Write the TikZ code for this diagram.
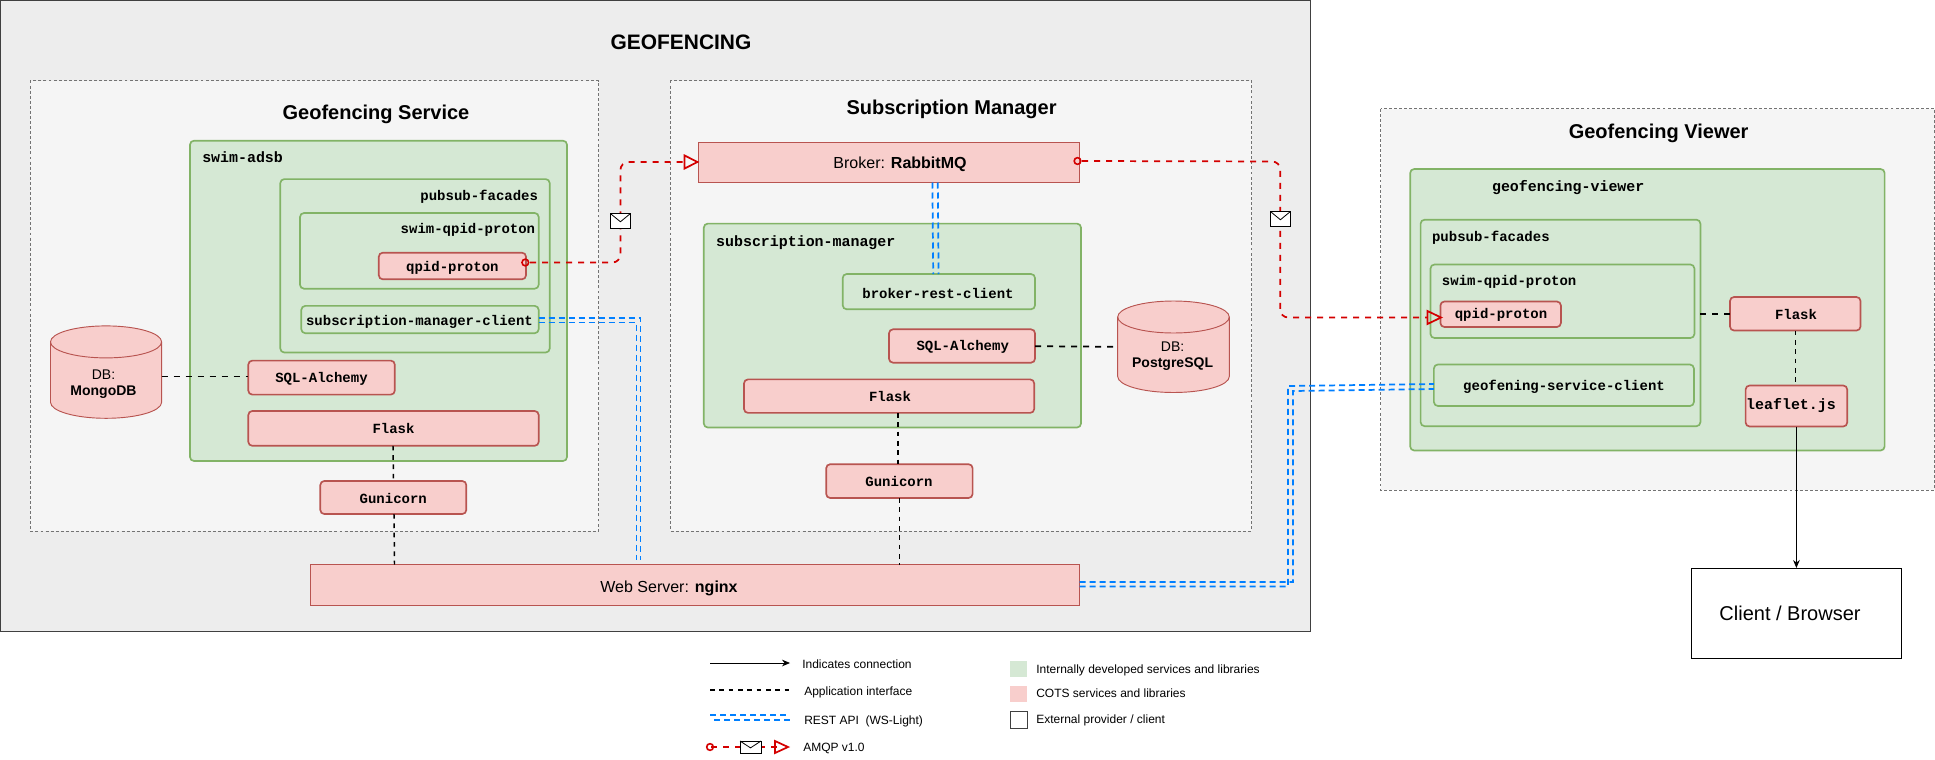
\documentclass[tikz,border=0pt]{standalone}
\usepackage{fontspec}
\setmainfont{Liberation Sans}
\setmonofont{Liberation Mono}
\usetikzlibrary{arrows.meta}
\definecolor{gfill}{HTML}{D5E8D4}
\definecolor{gline}{HTML}{82B366}
\definecolor{rfill}{HTML}{F8CECC}
\definecolor{rline}{HTML}{B85450}
\definecolor{amqp}{HTML}{D40000}
\definecolor{rest}{HTML}{007FFF}
\tikzset{
  x=0.75pt,y=-0.75pt,
  outerbox/.style={draw=black!75,fill=black!7,line width=0.7pt},
  dashbox/.style={draw=black!55,fill=black!4,line width=0.6pt,dash pattern=on 2.2pt off 1.6pt},
  gbox/.style={draw=gline,fill=gfill,line width=1.25pt,rounded corners=3pt},
  rbox/.style={draw=rline,fill=rfill,line width=1.25pt,rounded corners=3pt},
  sqbox/.style={draw=rline,fill=rfill,line width=0.6pt},
  ttl/.style={font=\fontsize{15}{18}\selectfont\bfseries,inner sep=0},
  bigttl/.style={font=\fontsize{15.7}{20}\selectfont\bfseries,inner sep=0},
  mono/.style={font=\ttfamily\bfseries\fontsize{10.5}{12}\selectfont,inner sep=0},
  monob/.style={font=\ttfamily\bfseries\fontsize{11.2}{12}\selectfont,inner sep=0},
  dbtxt/.style={font=\fontsize{10.5}{12}\selectfont,inner sep=0,align=center},
  sans/.style={font=\fontsize{12}{14}\selectfont,inner sep=0},
  leg/.style={font=\fontsize{9}{11}\selectfont,inner sep=0,anchor=west},
  appif/.style={draw=black,line width=1.3pt,dash pattern=on 4.5pt off 4.5pt},
  appthin/.style={draw=black,line width=1.1pt,dash pattern=on 3.5pt off 3.5pt},
  restln/.style={draw=rest,line width=1.3pt,dash pattern=on 4.5pt off 3pt},
  amqpln/.style={draw=amqp,line width=1.3pt,dash pattern=on 4.5pt off 4.5pt,rounded corners=6pt},
  tri/.style={draw=amqp,line width=1.3pt,fill=none},
  ring/.style={draw=amqp,line width=1.2pt,fill=none,circle,inner sep=0,minimum size=5pt},
  env/.style={draw=black,fill=white,line width=0.6pt},
}
\newcommand{\rect}[6]{% style name x1 y1 x2 y2
  \path[#1] (#3,#4) rectangle (#5,#6);
  \coordinate (#2) at ({(#3+#5)/2},{(#4+#6)/2});}
\newcommand{\cyl}[6]{% name x1 y1 x2 y2 ry
  \path[draw=rline,fill=rfill,line width=0.7pt] (#2,#3+#6) arc[x radius={(#4-#2)/2*0.75pt},y radius=#6*0.75pt,start angle=180,end angle=0] -- (#4,#5-#6) arc[x radius={(#4-#2)/2*0.75pt},y radius=#6*0.75pt,start angle=0,end angle=-180] -- cycle;
  \path[draw=rline,line width=0.7pt] (#2,#3+#6) arc[x radius={(#4-#2)/2*0.75pt},y radius=#6*0.75pt,start angle=180,end angle=360];
  \coordinate (#1) at ({(#2+#4)/2},{(#3+#5)/2});}
\newcommand{\envelope}[4]{%
  \path[env] (#1,#2) rectangle (#3,#4);
  \draw[line width=0.6pt] (#1,#2) -- ({(#1+#3)/2},{#2+(#4-#2)*0.55}) -- (#3,#2);}
\newcommand{\triangletip}[3]{% base x, tip x, y
  \path[tri] (#1,#3-6.5) -- (#2,#3) -- (#1,#3+6.5) -- cycle;}
\begin{document}
\begin{tikzpicture}
\useasboundingbox (0,0) rectangle (1935,760);
\path[fill=white] (0,0) rectangle (1935,760);
% containers
\rect{outerbox}{main}{0.5}{0.5}{1310.5}{631}
\rect{dashbox}{gs}{30}{80.5}{598.5}{531}
\rect{dashbox}{sm}{670.4}{80.5}{1251.6}{531}
\rect{dashbox}{gv}{1380.5}{108.6}{1934.5}{490}
\node[bigttl] (t0) at (681,42.5) {GEOFENCING};
\node[ttl] (t1) at (376,114.5) {Geofencing Service};
\node[ttl] (t2) at (951.6,109.5) {Subscription Manager};
\node[ttl] (t3) at (1658.6,133.5) {Geofencing Viewer};
% Geofencing service
\rect{gbox}{adsb}{190}{140.7}{567}{461}
\node[monob,anchor=west] (l1) at (202,157) {swim-adsb};
\rect{gbox}{pf1}{280.3}{179.1}{549.7}{352.5}
\node[mono,anchor=east] (l2) at (538.3,197) {pubsub-facades};
\rect{gbox}{sq1}{300}{213}{538.7}{288.7}
\node[mono,anchor=east] (l3) at (535.4,230) {swim-qpid-proton};
\rect{rbox}{qp1}{378.8}{252.7}{526}{279.3}
\node[mono] (qp1t) at (452.4,267.5) {qpid-proton};
\rect{gbox}{smc}{301.3}{305.9}{538.7}{333.2}
\node[mono] (smct) at (419.5,322) {subscription-manager-client};
\rect{rbox}{sa1}{248.3}{360.6}{394.8}{394.6}
\node[mono] (sa1t) at (321.5,378.5) {SQL-Alchemy};
\rect{rbox}{fl1}{248.3}{411}{538.7}{445.8}
\node[mono] (fl1t) at (393.5,428.5) {Flask};
\rect{rbox}{gu1}{320.3}{481}{466.3}{514}
\node[mono] (gu1t) at (393.3,498.5) {Gunicorn};
\cyl{mongo}{50.5}{325.9}{161.6}{418.3}{16}
\node[dbtxt] (mt) at (103.5,384) {DB:\\\textbf{MongoDB}};
% Subscription manager
\rect{sqbox}{brk}{698.5}{142}{1079.7}{182.5}
\node[sans] (brkt) at (900,164.5) {Broker: \textbf{RabbitMQ}};
\rect{gbox}{smb}{703.8}{223.6}{1081}{427.5}
\node[monob,anchor=west] (l4) at (715.9,243) {subscription-manager};
\rect{gbox}{brc}{842.7}{274}{1035}{309.3}
\node[mono] (brct) at (938,293) {broker-rest-client};
\rect{rbox}{sa2}{889}{329.3}{1035}{362.7}
\node[mono] (sa2t) at (962.7,347) {SQL-Alchemy};
\rect{rbox}{fl2}{744}{379.4}{1034.2}{412.9}
\node[mono] (fl2t) at (890,396.5) {Flask};
\rect{rbox}{gu2}{826.2}{464.2}{972.6}{498}
\node[mono] (gu2t) at (899,481) {Gunicorn};
\cyl{pg}{1117.7}{301}{1229.3}{392.5}{16}
\node[dbtxt] (pgt) at (1172.6,356) {DB:\\\textbf{PostgreSQL}};
% nginx
\rect{sqbox}{ngx}{310.2}{564.5}{1079.7}{605}
\node[sans] (ngxt) at (669,588) {Web Server: \textbf{nginx}};
% viewer
\rect{gbox}{gvb}{1410.2}{169}{1884.6}{450.5}
\node[monob] (l5) at (1568.2,187.5) {geofencing-viewer};
\rect{gbox}{pf2}{1420.6}{219.7}{1700.4}{426.2}
\node[mono,anchor=west] (l6) at (1431.8,238) {pubsub-facades};
\rect{gbox}{sq2}{1430.5}{264.5}{1694.4}{338}
\node[mono,anchor=west] (l7) at (1441.7,282) {swim-qpid-proton};
\rect{rbox}{qp2}{1440.4}{301.5}{1560.9}{327}
\node[mono] (qp2t) at (1501,315) {qpid-proton};
\rect{gbox}{gsc}{1433.9}{364.5}{1693.9}{406}
\node[mono] (gsct) at (1564,386.5) {geofening-service-client};
\rect{rbox}{fl3}{1730}{297}{1860.5}{330.5}
\node[mono] (fl3t) at (1796,314) {Flask};
\rect{rbox}{lfl}{1745.6}{385.5}{1847.2}{426.5}
\node[monob] (lflt) at (1791,406) {leaflet.js};
\path[draw=black,fill=white,line width=0.7pt] (1691.3,568) rectangle (1901.4,658);
\coordinate (cli) at (1796.4,568);
\node[font=\fontsize{15}{18}\selectfont,inner sep=0] (clit) at (1790,613) {Client / Browser};
% app interface connectors
\coordinate (a1) at (161.6,376.5); \coordinate (a2) at (248.3,376.5);
\path[appif] (a1) -- (a2);
\coordinate (a3) at (393,445.8); \coordinate (a4) at (393.5,481);
\path[appthin] (a3) -- (a4);
\coordinate (a5) at (394,514); \coordinate (a6) at (394.5,564.5);
\path[appthin] (a5) -- (a6);
\coordinate (a7) at (1035,346.2); \coordinate (a8) at (1117.7,346.8);
\path[appif] (a7) -- (a8);
\coordinate (a9) at (898,412.9); \coordinate (a10) at (898,464.2);
\path[appthin] (a9) -- (a10);
\coordinate (a11) at (899.4,498); \coordinate (a12) at (899.4,564.5);
\path[appthin] (a11) -- (a12);
\coordinate (a13) at (1700.4,314); \coordinate (a14) at (1730,314);
\path[appif] (a13) -- (a14);
\coordinate (a15) at (1795.5,330.5); \coordinate (a16) at (1795.5,385.5);
\path[appthin] (a15) -- (a16);
% plain connection
\draw[-{Stealth[length=6pt,width=5pt]},line width=0.6pt] (1796.4,426.5) -- (cli);
% REST
\path[restln] (538.7,318) -- (640.6,318) -- (640.6,560);
\path[restln] (538.7,322.5) -- (636.4,322.5) -- (636.4,560);
\path[restln] (932.4,182.5) -- (933.2,274);
\path[restln] (937.8,182.5) -- (938.6,274);
\path[restln] (1079.7,582) -- (1293,582) -- (1293,391) -- (1433.9,389);
\path[restln] (1079.7,586.5) -- (1288,586.5) -- (1288,386) -- (1433.9,384);
% AMQP
\path[amqpln] (530,262.5) -- (620.4,262.5) -- (620.4,162) -- (684.6,162);
\node[ring] (r1) at (525.3,262.5) {};
\triangletip{684.6}{697.5}{162}
\envelope{610.3}{213.5}{630.5}{228.5}
\path[amqpln] (1082,161) -- (1280.2,161.5) -- (1280.2,317.5) -- (1427,317.5);
\node[ring] (r2) at (1077.5,161) {};
\triangletip{1427.5}{1441}{317.5}
\envelope{1270.4}{211.5}{1290.4}{226.5}
% legend
\draw[-{Stealth[length=6pt,width=5pt]},line width=0.6pt] (710,663) -- (790,663);
\node[leg] at (802,664) {Indicates connection};
\path[appthin] (710,690) -- (790,690);
\node[leg] at (804,692.5) {Application interface};
\path[restln,line width=1.1pt] (710,715) -- (790,715);
\path[restln,line width=1.1pt] (714,720) -- (794,720);
\node[leg] at (804,721) {REST API~ (WS-Light)};
\path[amqpln,line width=1.1pt,rounded corners=0pt] (711,747) -- (777,747);
\node[ring] at (710,747) {};
\path[tri] (775,741) -- (788,747) -- (775,753) -- cycle;
\envelope{740}{741}{761}{753.5}
\node[leg] at (803,748) {AMQP v1.0};
\fill[gfill] (1010,660.5) rectangle (1027,676.5);
\node[leg] at (1036,670.5) {Internally developed services and libraries};
\fill[rfill] (1010,685.5) rectangle (1027,702);
\node[leg] at (1036,693) {COTS services and libraries};
\draw[draw=black!75,line width=0.6pt] (1010.5,711) rectangle (1027,728);
\node[leg] at (1036,720) {External provider / client};
\end{tikzpicture}
\end{document}
